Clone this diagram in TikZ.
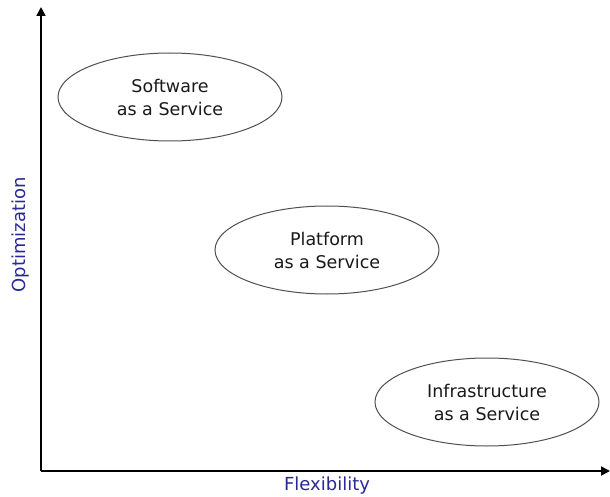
\documentclass[tikz,border=0pt]{standalone}
\usepackage{fontspec}
\setmainfont{DejaVu Sans}
\usetikzlibrary{shapes.geometric,arrows.meta}
\definecolor{axislabel}{RGB}{40,40,150}
\definecolor{ellgray}{RGB}{80,80,80}
\begin{document}
\begin{tikzpicture}[x=1pt,y=-1pt,
  svc/.style={ellipse,draw=ellgray,line width=1pt,minimum width=224pt,minimum height=88pt,inner sep=0pt,align=center,font=\fontsize{17.5}{23}\selectfont,text=black!90},
  axis/.style={line width=1.8pt,-{Triangle[length=9pt,width=9pt]}},
  axlab/.style={text=axislabel,font=\fontsize{18}{20}\selectfont}]
\useasboundingbox (0,0) rectangle (610,497);
\coordinate (o) at (41,471);
\coordinate (ytop) at (41,7);
\coordinate (xend) at (610,471);
\draw[axis] (o) -- (ytop);
\draw[axis] (o) -- (xend);
\node[svc] (saas) at (170,97) {Software\\as a Service};
\node[svc] (paas) at (327,250) {Platform\\as a Service};
\node[svc] (iaas) at (487,402) {Infrastructure\\as a Service};
\node[axlab] (flex) at (327,486) {Flexibility};
\node[axlab,rotate=90] (opt) at (21,235) {Optimization};
\end{tikzpicture}
\end{document}
